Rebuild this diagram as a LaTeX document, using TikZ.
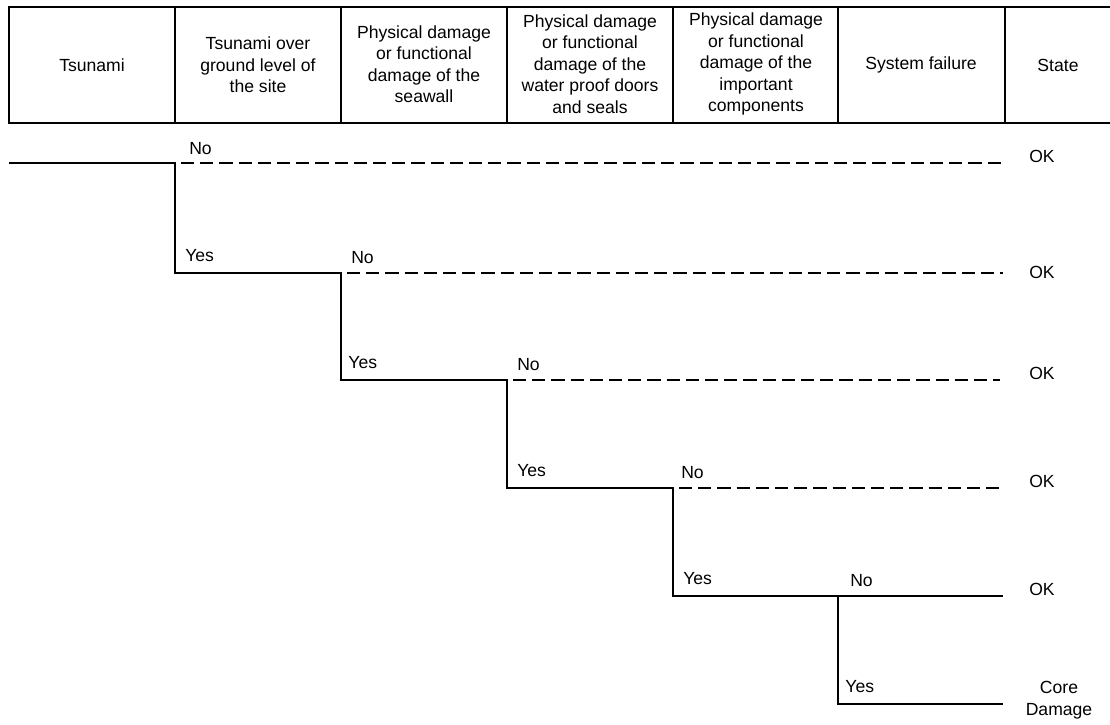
\documentclass[tikz,border=0pt]{standalone}
\usepackage{fontspec}
\setmainfont{Liberation Sans}
\tikzset{
  rule/.style={line width=2pt, draw=black, line cap=rect},
  stroke/.style={line width=2.1pt, draw=black, line join=miter},
  okpath/.style={line width=2.1pt, draw=black, dash pattern=on 0.33cm off 0.15cm, dash phase=0.33cm},
  headtext/.style={align=center, inner sep=0pt, font=\fontsize{12.5}{15.3}\selectfont},
  branchlabel/.style={anchor=base west, inner sep=0pt, font=\fontsize{12.5}{15.3}\selectfont},
  statelabel/.style={anchor=west, inner sep=0pt, font=\fontsize{12.5}{15.3}\selectfont},
}
\begin{document}
\begin{tikzpicture}[x=0.025cm, y=-0.025cm]
\useasboundingbox (0,0) rectangle (1110,724);
% header table
\draw[rule] (9,7) -- (1110,7);
\draw[rule] (9,123) -- (1110,123);
\draw[rule] (9,7) -- (9,123);
\draw[rule] (175,7) -- (175,123);
\draw[rule] (341,7) -- (341,123);
\draw[rule] (507,7) -- (507,123);
\draw[rule] (673,7) -- (673,123);
\draw[rule] (838,7) -- (838,123);
\draw[rule] (1005,7) -- (1005,123);
\node[headtext] (h1) at (92,65) {Tsunami};
\node[headtext] (h2) at (258,65) {Tsunami over\\ground level of\\the site};
\node[headtext] (h3) at (424,64) {Physical damage\\or functional\\damage of the\\seawall};
\node[headtext] (h4) at (590,64) {Physical damage\\or functional\\damage of the\\water proof doors\\and seals};
\node[headtext] (h5) at (756,64) {Physical damage\\or functional\\damage of the\\important\\components};
\node[headtext] (h6) at (921,65) {System failure};
\node[headtext] (h7) at (1058,65) {State};
% branch points
\coordinate (start) at (9,163);
\coordinate (n1) at (175,163);
\coordinate (y1) at (175,273);
\coordinate (n2) at (341,273);
\coordinate (y2) at (341,380);
\coordinate (n3) at (507,380);
\coordinate (y3) at (507,488);
\coordinate (n4) at (673,488);
\coordinate (y4) at (673,596);
\coordinate (n5) at (838,596);
\coordinate (y5) at (838,704);
\coordinate (e1) at (1003,163);
\coordinate (e2) at (1003,273);
\coordinate (e3) at (1000,380);
\coordinate (e4) at (1000,488);
\coordinate (e5) at (1003,596);
\coordinate (e6) at (1003,704);
% tree
\draw[stroke] (start) -- (n1) -- (y1) -- (n2) -- (y2) -- (n3) -- (y3) -- (n4) -- (y4) -- (n5) -- (y5) -- (e6);
\draw[okpath] (n1) -- (e1);
\draw[okpath] (n2) -- (e2);
\draw[okpath] (n3) -- (e3);
\draw[okpath] (n4) -- (e4);
\draw[stroke] (n5) -- (e5);
% labels
\node[branchlabel] (no1) at ([xshift=0.35cm,yshift=0.22cm]n1) {No};
\node[branchlabel] (yes1) at ([xshift=0.25cm,yshift=0.28cm]y1) {Yes};
\node[branchlabel] (no2) at ([xshift=0.25cm,yshift=0.25cm]n2) {No};
\node[branchlabel] (yes2) at ([xshift=0.18cm,yshift=0.28cm]y2) {Yes};
\node[branchlabel] (no3) at ([xshift=0.25cm,yshift=0.25cm]n3) {No};
\node[branchlabel] (yes3) at ([xshift=0.25cm,yshift=0.28cm]y3) {Yes};
\node[branchlabel] (no4) at ([xshift=0.2cm,yshift=0.25cm]n4) {No};
\node[branchlabel] (yes4) at ([xshift=0.25cm,yshift=0.28cm]y4) {Yes};
\node[branchlabel] (no5) at ([xshift=0.3cm,yshift=0.25cm]n5) {No};
\node[branchlabel] (yes5) at ([xshift=0.18cm,yshift=0.28cm]y5) {Yes};
\node[statelabel] (s1) at (1029,156) {OK};
\node[statelabel] (s2) at (1029,272) {OK};
\node[statelabel] (s3) at (1029,373) {OK};
\node[statelabel] (s4) at (1029,481) {OK};
\node[statelabel] (s5) at (1029,589) {OK};
\node[headtext] (s6) at (1059,700) {Core\\Damage};
\end{tikzpicture}
\end{document}
